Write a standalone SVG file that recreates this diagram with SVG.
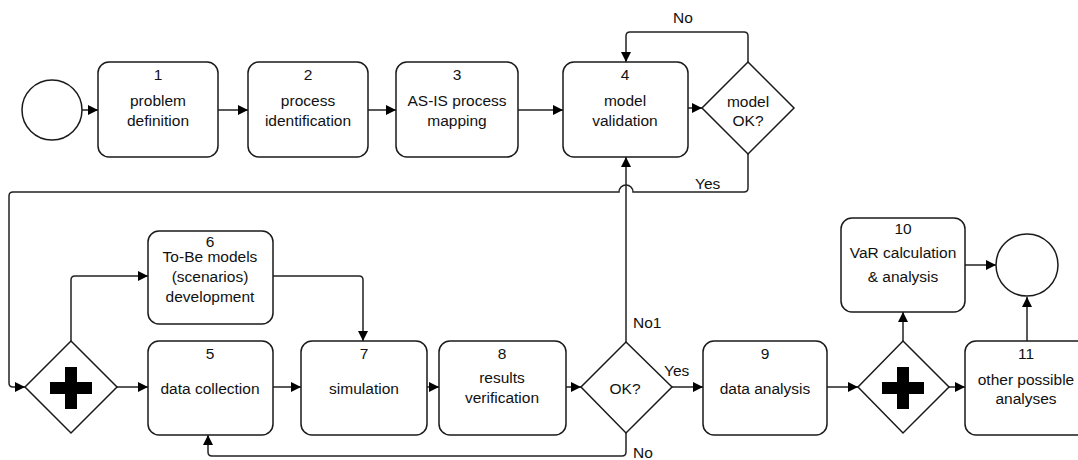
<svg xmlns="http://www.w3.org/2000/svg" width="1078" height="460" viewBox="0 0 1078 460">
<defs>
<style>
.box{fill:#fff;stroke:#1a1a1a;stroke-width:1.5}
.ev{fill:#fff;stroke:#1a1a1a;stroke-width:1.5}
.gw{fill:#fff;stroke:#1a1a1a;stroke-width:1.5}
.plus{fill:#000}
.c{fill:none;stroke:#222;stroke-width:1.5}
text{font-family:"Liberation Sans",Arial,sans-serif;font-size:15.5px;fill:#111;text-anchor:middle}
.lbl{text-anchor:start}
</style>
<marker id="arr" viewBox="0 0 10 10" refX="10" refY="5" markerWidth="10" markerHeight="10" markerUnits="userSpaceOnUse" orient="auto">
<path d="M0,0 L10,5 L0,10 z" fill="#000"/>
</marker>
</defs>
<rect width="1078" height="460" fill="#fff"/>

<g id="connectors">
<path class="c" marker-end="url(#arr)" d="M82,110 H98"/>
<path class="c" marker-end="url(#arr)" d="M218,110 H248"/>
<path class="c" marker-end="url(#arr)" d="M368,110 H396"/>
<path class="c" marker-end="url(#arr)" d="M518,110 H563"/>
<path class="c" marker-end="url(#arr)" d="M688,108 H702"/>
<path class="c" marker-end="url(#arr)" d="M748,62 V36 Q748,32 744,32 H630 Q626,32 626,36 V62"/>
<path class="c" marker-end="url(#arr)" d="M748,154 V188 Q748,192 744,192 H633 A7,7 0 0 0 619,192 H13 Q9,192 9,196 V383 Q9,387 13,387 H25"/>
<path class="c" marker-end="url(#arr)" d="M626,342 V157"/>
<path class="c" marker-end="url(#arr)" d="M117,387 H148"/>
<path class="c" marker-end="url(#arr)" d="M71,341 V280 Q71,276 75,276 H148"/>
<path class="c" marker-end="url(#arr)" d="M273,276 H359 Q363,276 363,280 V341"/>
<path class="c" marker-end="url(#arr)" d="M273,387 H301"/>
<path class="c" marker-end="url(#arr)" d="M427,387 H439"/>
<path class="c" marker-end="url(#arr)" d="M566,387 H581"/>
<path class="c" marker-end="url(#arr)" d="M672,387 H703"/>
<path class="c" marker-end="url(#arr)" d="M626,433 V452 Q626,456 622,456 H212 Q208,456 208,452 V435"/>
<path class="c" marker-end="url(#arr)" d="M827,387 H858"/>
<path class="c" marker-end="url(#arr)" d="M903,341 V312"/>
<path class="c" marker-end="url(#arr)" d="M949,387 H965"/>
<path class="c" marker-end="url(#arr)" d="M965,265 H996"/>
<path class="c" marker-end="url(#arr)" d="M1027,341 V297"/>
<text class="lbl" x="673" y="23">No</text>
<text class="lbl" x="695" y="189">Yes</text>
<text class="lbl" x="633" y="328">No1</text>
<text class="lbl" x="664" y="376">Yes</text>
<text class="lbl" x="633" y="458">No</text>
</g>

<g id="start"><circle class="ev" cx="52" cy="110" r="30"/></g>

<g id="n1"><rect class="box" x="98" y="62" width="120" height="95" rx="11"/>
<text x="158" y="80">1</text><text x="158" y="106">problem</text><text x="158" y="126">definition</text></g>

<g id="n2"><rect class="box" x="248" y="62" width="120" height="95" rx="11"/>
<text x="308" y="80">2</text><text x="308" y="106">process</text><text x="308" y="126">identification</text></g>

<g id="n3"><rect class="box" x="396" y="62" width="122" height="95" rx="11"/>
<text x="457" y="80">3</text><text x="457" y="106">AS-IS process</text><text x="457" y="126">mapping</text></g>

<g id="n4"><rect class="box" x="563" y="62" width="125" height="95" rx="11"/>
<text x="625" y="80">4</text><text x="625" y="106">model</text><text x="625" y="126">validation</text></g>

<g id="d_model"><path class="gw" d="M748,62 L794,108 L748,154 L702,108 z"/>
<text x="748" y="107">model</text><text x="748" y="126">OK?</text></g>

<g id="g1"><path class="gw" d="M71,341 L117,387 L71,433 L25,387 z"/>
<path class="plus" d="M65,367 H77 V382 H92 V394 H77 V409 H65 V394 H50 V382 H65 z"/></g>

<g id="n6"><rect class="box" x="148" y="231" width="125" height="93" rx="11"/>
<text x="210" y="247">6</text><text x="210" y="262">To-Be models</text><text x="210" y="282">(scenarios)</text><text x="210" y="302">development</text></g>

<g id="n5"><rect class="box" x="148" y="341" width="125" height="94" rx="11"/>
<text x="210" y="359">5</text><text x="210" y="394">data collection</text></g>

<g id="n7"><rect class="box" x="301" y="341" width="126" height="94" rx="11"/>
<text x="364" y="359">7</text><text x="364" y="394">simulation</text></g>

<g id="n8"><rect class="box" x="439" y="341" width="127" height="94" rx="11"/>
<text x="502" y="359">8</text><text x="502" y="383">results</text><text x="502" y="403">verification</text></g>

<g id="d_ok"><path class="gw" d="M626,342 L672,387 L626,433 L581,387 z"/>
<text x="625" y="394">OK?</text></g>

<g id="n9"><rect class="box" x="703" y="341" width="124" height="94" rx="11"/>
<text x="765" y="359">9</text><text x="765" y="394">data analysis</text></g>

<g id="g2"><path class="gw" d="M903,341 L949,387 L903,433 L858,387 z"/>
<path class="plus" d="M897,367 H909 V382 H924 V394 H909 V409 H897 V394 H882 V382 H897 z"/></g>

<g id="n10"><rect class="box" x="841" y="218" width="124" height="94" rx="11"/>
<text x="903" y="234">10</text><text x="903" y="258">VaR calculation</text><text x="903" y="282">&amp; analysis</text></g>

<g id="n11"><rect class="box" x="965" y="341" width="125" height="94" rx="11"/>
<text x="1026" y="359">11</text><text x="1026" y="385">other possible</text><text x="1026" y="404">analyses</text></g>

<g id="end"><circle class="ev" cx="1027" cy="265" r="31"/></g>
</svg>
